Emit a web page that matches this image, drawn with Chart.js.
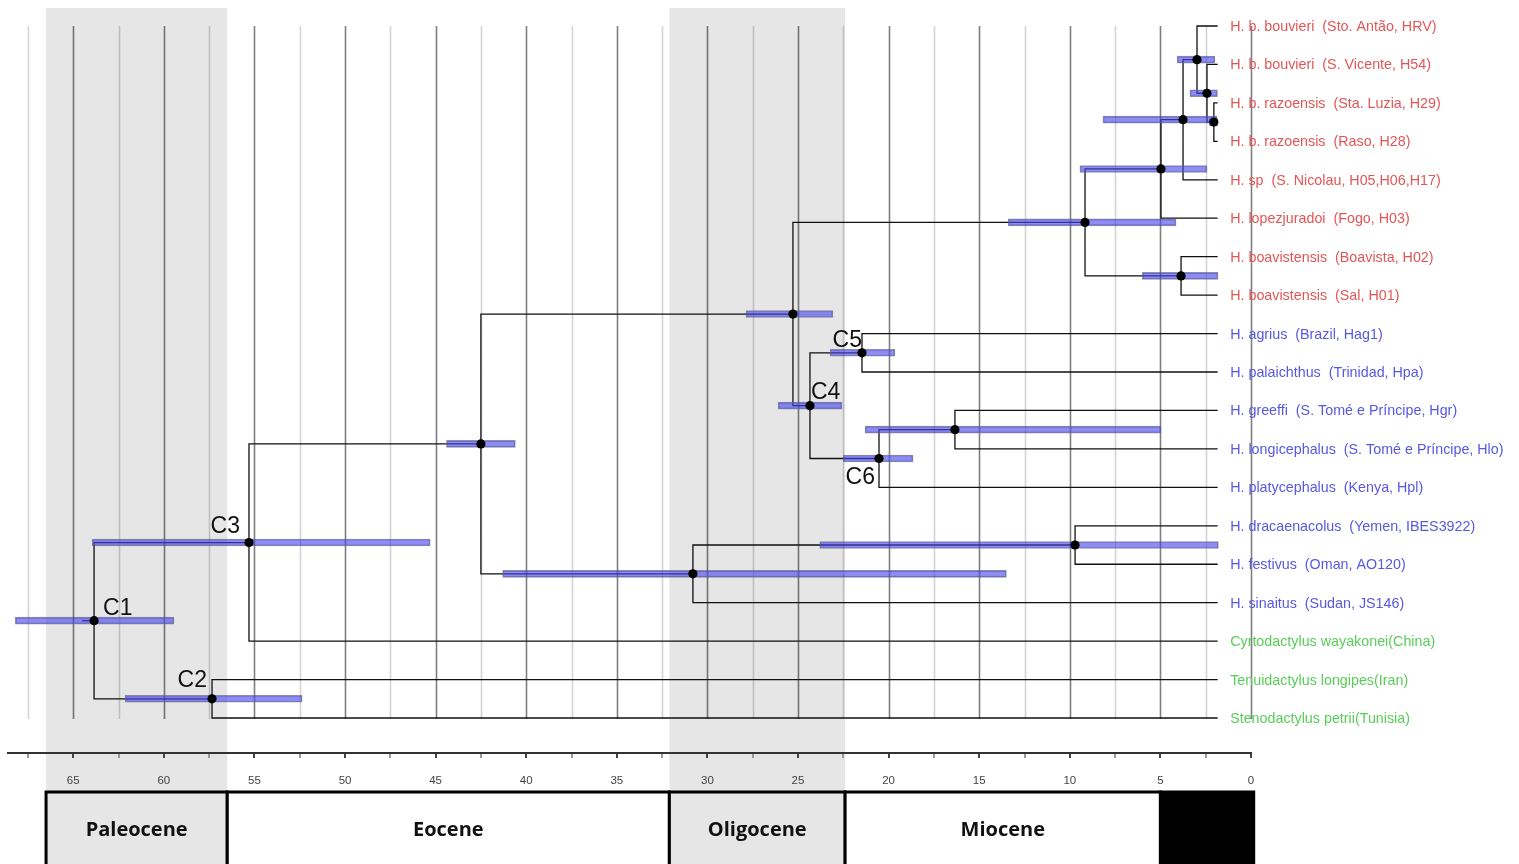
<!DOCTYPE html>
<html>
<head>
<meta charset="utf-8">
<script src="https://cdn.jsdelivr.net/npm/chart.js@4.4.1/dist/chart.umd.min.js"></script>
<style>
  html, body { margin: 0; padding: 0; background: #fff; }
  #wrap { width: 1519px; height: 864px; position: relative; }
</style>
</head>
<body>
<div id="wrap"><canvas id="c" width="1519" height="864"></canvas></div>
<script>
// Terminal taxa, top to bottom
const taxa = [
  'H. b. bouvieri  (Sto. Antão, HRV)',
  'H. b. bouvieri  (S. Vicente, H54)',
  'H. b. razoensis  (Sta. Luzia, H29)',
  'H. b. razoensis  (Raso, H28)',
  'H. sp  (S. Nicolau, H05,H06,H17)',
  'H. lopezjuradoi  (Fogo, H03)',
  'H. boavistensis  (Boavista, H02)',
  'H. boavistensis  (Sal, H01)',
  'H. agrius  (Brazil, Hag1)',
  'H. palaichthus  (Trinidad, Hpa)',
  'H. greeffi  (S. Tomé e Príncipe, Hgr)',
  'H. longicephalus  (S. Tomé e Príncipe, Hlo)',
  'H. platycephalus  (Kenya, Hpl)',
  'H. dracaenacolus  (Yemen, IBES3922)',
  'H. festivus  (Oman, AO120)',
  'H. sinaitus  (Sudan, JS146)',
  'Cyrtodactylus wayakonei(China)',
  'Tenuidactylus longipes(Iran)',
  'Stenodactylus petrii(Tunisia)'
];
const taxonGroup = ['cv','cv','cv','cv','cv','cv','cv','cv',
                    'hemi','hemi','hemi','hemi','hemi','hemi','hemi','hemi',
                    'out','out','out'];
const tipAge = 1.84;      // Ma, where terminal branches end
const rootStemAge = 64.5; // Ma, start of the root stem

// Internal nodes: children are tip indices or node ids; ages in Ma
const nodeIds = ['raz','bouv','antao','nicolau','fogo','boa','capeVerde',
                 'C5','stp','C6','C4','atlantic','arabia','africa','hemi',
                 'C3','C2','C1'];
const nodeChildren = [
  [2, 3], [1, 'raz'], [0, 'bouv'], ['antao', 4], ['nicolau', 5], [6, 7],
  ['fogo', 'boa'], [8, 9], [10, 11], ['stp', 12], ['C5', 'C6'],
  ['capeVerde', 'C4'], [13, 14], ['arabia', 15], ['atlantic', 'africa'],
  ['hemi', 16], [17, 18], ['C3', 'C2']
];
const nodeAge  = [2.05, 2.43, 2.98, 3.75, 4.97, 3.86, 9.16,
                  21.47, 16.34, 20.53, 24.34, 25.28, 9.71, 30.8, 42.5,
                  55.3, 57.34, 63.85];
// 95% HPD interval bounds (older, younger)
const hpdOld   = [2.3, 3.37, 4.08, 8.17, 9.44, 6.0, 13.4,
                  23.23, 21.3, 22.5, 26.1, 27.87, 23.8, 41.3, 44.4,
                  63.96, 62.14, 68.2];
const hpdYoung = [1.85, 1.85, 1.99, 1.87, 2.43, 1.82, 4.14,
                  19.65, 4.97, 18.65, 22.57, 23.07, 1.8, 13.5, 40.6,
                  45.3, 52.37, 59.44];

// Named clades
const cladeLabels = ['C1', 'C2', 'C3', 'C4', 'C5', 'C6'];

// Time axis ticks (Ma)
const ageTicks = [0, 2.5, 5, 7.5, 10, 12.5, 15, 17.5, 20, 22.5, 25, 27.5, 30,
                  32.5, 35, 37.5, 40, 42.5, 45, 47.5, 50, 52.5, 55, 57.5, 60,
                  62.5, 65, 67.5];

// Epochs (Ma)
const epochNames = ['Paleocene', 'Eocene', 'Oligocene', 'Miocene', ''];
const epochStart = [66.5, 56.5, 32.1, 22.4, 5.0];
const epochEnd   = [56.5, 32.1, 22.4, 5.0, -0.15];

// ---- tree layout: tips on rows 1..n, internal nodes at the mean of their children
const rowOf = {}, ageOf = {};
taxa.forEach((t, i) => { rowOf[i] = i + 1; ageOf[i] = tipAge; });
nodeIds.forEach((id, k) => {
  const [a, b] = nodeChildren[k];
  rowOf[id] = (rowOf[a] + rowOf[b]) / 2;
  ageOf[id] = nodeAge[k];
});

const branchPts = [];
nodeIds.forEach((id, k) => {
  const [a, b] = nodeChildren[k];
  branchPts.push(
    { x: ageOf[a], y: rowOf[a] },
    { x: nodeAge[k], y: rowOf[a] },
    { x: nodeAge[k], y: rowOf[b] },
    { x: ageOf[b], y: rowOf[b] },
    { x: null, y: null }
  );
});
branchPts.push({ x: rootStemAge, y: rowOf.C1 }, { x: ageOf.C1, y: rowOf.C1 });

const hpdBars = nodeIds.map((id, k) => ({ x: [hpdOld[k], hpdYoung[k]], y: rowOf[id] }));
const nodePts = nodeIds.map((id, k) => ({ x: nodeAge[k], y: rowOf[id] }));

// ---- styling
const groupColor = { cv: 'rgb(226,86,86)', hemi: 'rgb(88,88,226)', out: 'rgb(88,206,88)' };
const epochFill = ['#e6e6e6', '#ffffff', '#e6e6e6', '#ffffff', '#000000'];
const shadeBandTop = 8, epochBoxTop = 792, epochBoxBottom = 880;
// clade label placement relative to the node: [align, dx, dy(baseline)]
const cladePlace = {
  C1: ['left', 9, -6], C2: ['right', -5, -12], C3: ['right', -9, -10],
  C4: ['left', 1, -7], C5: ['right', 0, -6], C6: ['right', -4, 25]
};

const backdrop = {
  id: 'backdrop',
  beforeDraw(chart) {
    const { ctx } = chart, xs = chart.scales.x;
    ctx.save();
    ctx.fillStyle = '#fff';
    ctx.fillRect(0, 0, chart.width, chart.height);
    epochNames.forEach((n, i) => {
      if (epochFill[i] !== '#e6e6e6') return;
      const x0 = xs.getPixelForValue(epochStart[i]), x1 = xs.getPixelForValue(epochEnd[i]);
      ctx.fillStyle = epochFill[i];
      ctx.fillRect(x0, shadeBandTop, x1 - x0, epochBoxTop - shadeBandTop);
    });
    ctx.restore();
  },
  beforeDatasetsDraw(chart) {
    const { ctx } = chart, xs = chart.scales.x, ys = chart.scales.y;
    const yTop = ys.getPixelForValue(1), yBot = ys.getPixelForValue(taxa.length) + 1;
    ctx.save();
    ageTicks.forEach(v => {
      const x = Math.round(xs.getPixelForValue(v)) + 0.5;
      const major = v % 5 === 0;
      ctx.strokeStyle = major ? 'rgba(0,0,0,0.5)' : 'rgba(0,0,0,0.17)';
      ctx.lineWidth = 1.6;
      ctx.beginPath();
      ctx.moveTo(x, yTop);
      ctx.lineTo(x, yBot);
      ctx.stroke();
    });
    ctx.restore();
  },
  afterDatasetsDraw(chart) {
    const { ctx } = chart, xs = chart.scales.x, ys = chart.scales.y;
    ctx.save();
    ctx.font = '14.3px "Liberation Sans", Arial, sans-serif';
    ctx.textBaseline = 'middle';
    ctx.textAlign = 'left';
    const tx = xs.getPixelForValue(tipAge) + 12.5;
    taxa.forEach((t, i) => {
      ctx.fillStyle = groupColor[taxonGroup[i]];
      ctx.fillText(t, tx, ys.getPixelForValue(rowOf[i]) + 1);
    });
    ctx.font = '23px "Liberation Sans", Arial, sans-serif';
    ctx.fillStyle = '#111';
    ctx.textBaseline = 'alphabetic';
    cladeLabels.forEach(c => {
      const [al, dx, dy] = cladePlace[c];
      ctx.textAlign = al;
      ctx.fillText(c, xs.getPixelForValue(ageOf[c]) + dx, ys.getPixelForValue(rowOf[c]) + dy);
    });
    ctx.restore();
  },
  afterDraw(chart) {
    const { ctx } = chart, xs = chart.scales.x;
    ctx.save();
    ctx.lineWidth = 3;
    ctx.strokeStyle = '#000';
    epochNames.forEach((n, i) => {
      const x0 = xs.getPixelForValue(epochStart[i]), x1 = xs.getPixelForValue(epochEnd[i]);
      ctx.fillStyle = epochFill[i];
      ctx.fillRect(x0, epochBoxTop, x1 - x0, epochBoxBottom - epochBoxTop);
      ctx.strokeRect(x0, epochBoxTop, x1 - x0, epochBoxBottom - epochBoxTop);
      if (n) {
        ctx.fillStyle = '#111';
        ctx.font = 'bold 20px "Open Sans", "Liberation Sans", sans-serif';
        ctx.textAlign = 'center';
        ctx.textBaseline = 'middle';
        ctx.fillText(n, (x0 + x1) / 2, 830);
      }
    });
    ctx.restore();
  }
};

new Chart(document.getElementById('c'), {
  type: 'scatter',
  data: {
    datasets: [
      {
        type: 'scatter',
        label: 'branches',
        data: branchPts,
        showLine: true,
        spanGaps: false,
        borderColor: '#111',
        borderWidth: 1.3,
        pointRadius: 0,
        order: 3
      },
      {
        type: 'bar',
        label: '95% HPD',
        indexAxis: 'y',
        data: hpdBars,
        barThickness: 7,
        grouped: false,
        backgroundColor: 'rgba(70,70,235,0.62)',
        borderColor: 'rgba(95,95,125,0.7)',
        borderWidth: 1,
        borderSkipped: false,
        order: 2
      },
      {
        type: 'scatter',
        label: 'nodes',
        data: nodePts,
        pointRadius: 4.6,
        pointBackgroundColor: '#000',
        pointBorderWidth: 0,
        order: 1
      }
    ]
  },
  options: {
    responsive: false,
    animation: false,
    devicePixelRatio: 1,
    layout: { padding: { left: 8, top: 8, right: 268, bottom: 0 } },
    plugins: { legend: { display: false }, tooltip: { enabled: false } },
    scales: {
      x: {
        type: 'linear',
        reverse: true,
        offset: false,
        min: 0,
        max: 68.6,
        afterBuildTicks: s => { s.ticks = ageTicks.map(v => ({ value: v })); },
        afterFit: s => { s.height = 111; },
        border: { display: true, color: '#333', width: 2 },
        grid: {
          offset: false,
          drawOnChartArea: false,
          drawTicks: true,
          tickLength: 5,
          lineWidth: 2,
          color: ctx => (ctx.tick && ctx.tick.value % 5 === 0) ? '#444' : '#999'
        },
        ticks: {
          autoSkip: false,
          maxRotation: 0,
          padding: 16,
          color: '#444',
          font: { family: '"Liberation Sans Narrow", "Liberation Sans", Arial', size: 11.5 },
          callback: v => (v % 5 === 0 ? String(v) : '')
        }
      },
      y: {
        type: 'linear',
        reverse: true,
        offset: false,
        grid: { offset: false },
        min: 0.532,
        max: 19.91,
        display: false
      }
    }
  },
  plugins: [backdrop]
});
</script>
</body>
</html>
